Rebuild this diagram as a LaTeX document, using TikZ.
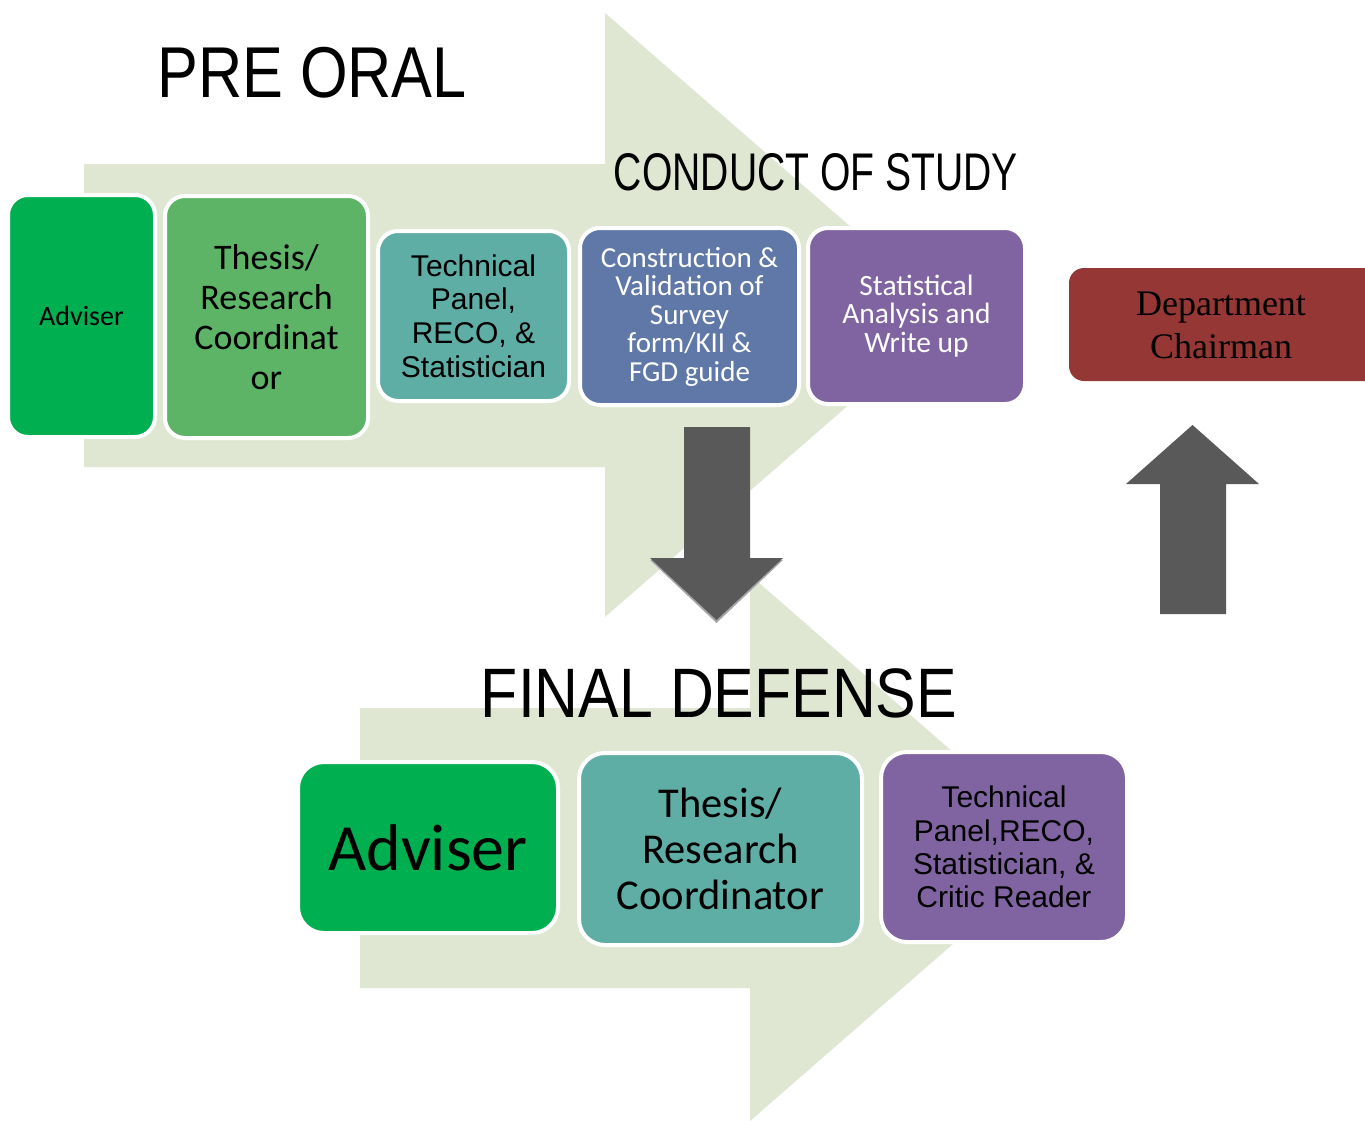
\documentclass[tikz,border=0pt]{standalone}
\usepackage{fontspec}
\usepackage{graphicx}
\newfontfamily\calfont{Carlito}
\newfontfamily\arifont{Liberation Sans}
\newfontfamily\tmsfont{Liberation Serif}
\definecolor{chev}{RGB}{223,231,210}
\definecolor{advgreen}{RGB}{0,176,80}
\definecolor{litegreen}{RGB}{93,180,102}
\definecolor{tealbox}{RGB}{95,174,165}
\definecolor{bluebox}{RGB}{96,120,168}
\definecolor{purplebox}{RGB}{128,100,162}
\definecolor{redbox}{RGB}{149,55,53}
\definecolor{arrowgray}{RGB}{89,89,89}
\begin{document}
\begin{tikzpicture}[x=1pt,y=-1pt,
  box/.style={rounded corners=20pt, draw=white, line width=4pt, align=center, inner sep=0pt},
  title/.style={anchor=base, inner sep=0pt, font=\arifont\fontsize{#1}{#1}\selectfont},
  blockarrow/.style={fill=arrowgray, draw=none}
]
\useasboundingbox (0,0) rectangle (1365,1120);
\clip (0,0) rectangle (1365,1120);
\fill[white] (0,0) rectangle (1365,1120);

% chevrons
\fill[chev] (84,164) -- (605,164) -- (605,13) -- (952,315) -- (605,617) -- (605,467) -- (84,467) -- cycle;
\fill[chev] (360,708) -- (750,708) -- (750,575) -- (1063,848) -- (750,1121) -- (750,988) -- (360,988) -- cycle;

% titles
\node[title=72] (pre) at (312,97) {\scalebox{0.85}[1]{PRE ORAL}};
\node[title=53] (cos) at (816,190) {\scalebox{0.738}[1]{CONDUCT OF STUDY}};
\node[title=70] (fin) at (719,717) {\scalebox{0.868}[1]{FINAL DEFENSE}};

% top row
\node[box, fill=advgreen, minimum width=147pt, minimum height=242pt,
  font=\calfont\fontsize{28}{30}\selectfont] (a1) at (81.5,316) {Adviser};
\node[box, fill=litegreen, minimum width=203pt, minimum height=242pt,
  font=\calfont\fontsize{36}{40}\selectfont] (a2) at (266.5,317) {Thesis/\\Research\\Coordinat\\or};
\node[box, fill=tealbox, minimum width=191pt, minimum height=170pt,
  font=\arifont\fontsize{30}{33.7}\selectfont] (a3) at (473.5,316) {Technical\\Panel,\\RECO, \&\\Statistician};
\node[box, fill=bluebox, minimum width=219pt, minimum height=177pt, text=white,
  font=\calfont\fontsize{29}{28.5}\selectfont] (a4) at (689.5,316.5) {Construction \&\\Validation of\\Survey\\form/KII \&\\FGD guide};
\node[box, fill=purplebox, minimum width=217pt, minimum height=176pt, text=white,
  font=\calfont\fontsize{29.5}{28.3}\selectfont] (a5) at (916.5,316) {Statistical\\Analysis and\\Write up};
\node[box, rounded corners=15pt, draw=none, fill=redbox, minimum width=314pt, minimum height=113pt] (a6) at (1226,324.5) {};
\node[align=center, inner sep=0pt, font=\tmsfont\fontsize{36}{43}\selectfont] (a6t) at (1221,325.5) {Department\\Chairman};

% bottom row
\node[box, rounded corners=26pt, fill=advgreen, minimum width=260pt, minimum height=171pt,
  font=\calfont\fontsize{66}{66}\selectfont] (b1) at (428,847.5) {Adviser};
\node[box, rounded corners=26pt, fill=tealbox, minimum width=283pt, minimum height=192pt,
  font=\calfont\fontsize{42.5}{46}\selectfont] (b2) at (720.5,849) {Thesis/\\Research\\Coordinator};
\node[box, rounded corners=26pt, fill=purplebox, minimum width=246pt, minimum height=190pt,
  font=\arifont\fontsize{30}{33.4}\selectfont] (b3) at (1004,847) {Technical\\Panel,RECO,\\Statistician, \&\\Critic Reader};

% block arrows
\fill[gray!70] (650,560) -- (783,560) -- (716.5,623) -- cycle;
\fill[blockarrow] (684,427) -- (750,427) -- (750,558) -- (783,558) -- (716.5,620) -- (650,558) -- (684,558) -- cycle;
\fill[blockarrow] (1160,614) -- (1226,614) -- (1226,484) -- (1259,484) -- (1192.5,425) -- (1126,484) -- (1160,484) -- cycle;
\end{tikzpicture}
\end{document}
